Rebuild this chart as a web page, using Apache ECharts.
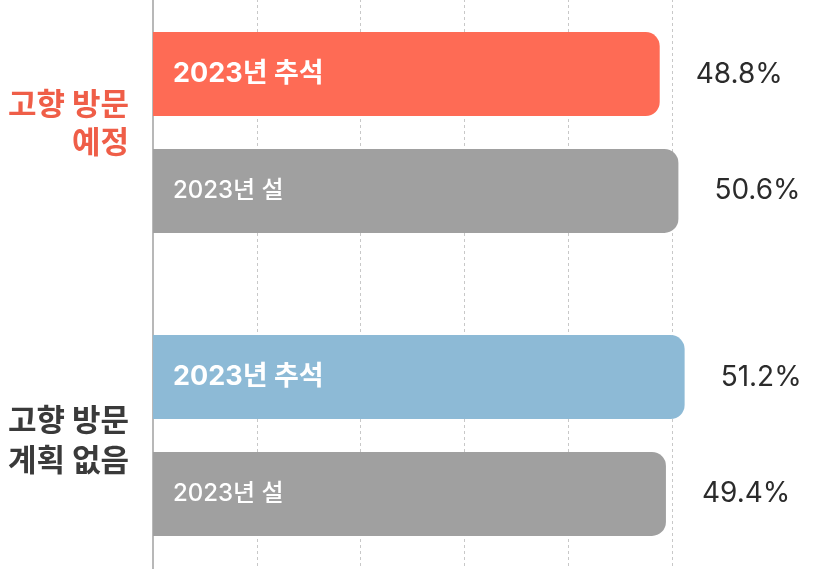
<!DOCTYPE html>
<html>
<head>
<meta charset="utf-8">
<script src="https://cdn.jsdelivr.net/npm/echarts@6/dist/echarts.min.js"></script>
<style>
  html, body { margin: 0; padding: 0; background: #ffffff; overflow: hidden; width: 829px; height: 569px; }
  #chart { position: absolute; left: 0; top: -19px; width: 829px; height: 606px; }
</style>
</head>
<body>
<div id="chart"></div>
<script>
// ---- data ----
var categories = ['고향 방문\n예정', '고향 방문\n계획 없음'];
var seriesNames = ['2023년 추석', '2023년 설'];
var chuseokValues = [48.8, 51.2];
var seolValues = [50.6, 49.4];

// ---- styles ----
var FONT = 'Inter, "Noto Sans CJK KR", sans-serif';
var chuseokColors = ['#FE6B55', '#8DBAD6'];
var seolColor = '#A0A0A0';

function valueLabel(arr) {
  return {
    show: true,
    position: 'right',
    distance: 36,
    fontFamily: FONT,
    fontSize: 28,
    color: '#2b2b2b',
    formatter: function (p) { return arr[p.dataIndex].toFixed(1) + '%'; }
  };
}

var chart = echarts.init(document.getElementById('chart'));
chart.setOption({
  animation: false,
  backgroundColor: '#ffffff',
  grid: { left: 153, right: 53, top: 0, bottom: 0, containLabel: false },
  xAxis: {
    type: 'value',
    min: 0, max: 60, interval: 10,
    axisLabel: { show: false },
    axisLine: { show: false },
    axisTick: { show: false },
    splitLine: {
      show: true,
      showMinLine: false,
      showMaxLine: false,
      lineStyle: { color: '#c8c8c8', type: [3, 3], width: 1 }
    }
  },
  yAxis: {
    type: 'category',
    inverse: true,
    data: categories,
    axisTick: { show: false },
    axisLine: { show: true, lineStyle: { color: '#a0a0a0', width: 1.5 } },
    axisLabel: {
      margin: 24,
      align: 'right',
      formatter: function (v, i) {
        var key = i === 0 ? 'a' : 'b';
        var body = v.split('\n').map(function (s) { return '{' + key + '|' + s + '}'; }).join('\n');
        return i === 0 ? body + '\n{s1| }' : '{s2| }\n' + body;
      },
      rich: {
        a: { fontFamily: '"Noto Sans CJK KR", sans-serif', fontSize: 31, fontWeight: 'bold', color: '#EF5E48', lineHeight: 38, align: 'right' },
        b: { fontFamily: '"Noto Sans CJK KR", sans-serif', fontSize: 31, fontWeight: 'bold', color: '#3A3A3A', lineHeight: 40, align: 'right' },
        s1: { fontSize: 1, lineHeight: 20 },
        s2: { fontSize: 1, lineHeight: 8 }
      }
    }
  },
  series: [
    {
      name: seriesNames[0],
      type: 'bar',
      stack: 'a',
      barWidth: 84,
      barGap: '39%',
      data: chuseokValues,
      itemStyle: {
        borderRadius: [0, 14, 14, 0],
        color: function (p) { return chuseokColors[p.dataIndex]; }
      },
      label: {
        show: true,
        position: 'insideLeft',
        distance: 20,
        fontFamily: FONT,
        fontSize: 27,
        fontWeight: 'bold',
        color: '#ffffff',
        formatter: '{a}'
      }
    },
    {
      name: seriesNames[0] + ' 값',
      type: 'bar',
      stack: 'a',
      barWidth: 84,
      data: chuseokValues.map(function () { return 0; }),
      itemStyle: { color: 'rgba(0,0,0,0)' },
      label: valueLabel(chuseokValues)
    },
    {
      name: seriesNames[1],
      type: 'bar',
      stack: 'b',
      barWidth: 84,
      data: seolValues,
      itemStyle: { borderRadius: [0, 14, 14, 0], color: seolColor },
      label: {
        show: true,
        position: 'insideLeft',
        distance: 20,
        fontFamily: FONT,
        fontSize: 24,
        fontWeight: 500,
        color: '#ffffff',
        formatter: '{a}'
      }
    },
    {
      name: seriesNames[1] + ' 값',
      type: 'bar',
      stack: 'b',
      barWidth: 84,
      barGap: '39%',
      data: seolValues.map(function () { return 0; }),
      itemStyle: { color: 'rgba(0,0,0,0)' },
      label: valueLabel(seolValues)
    }
  ]
});
</script>
</body>
</html>
